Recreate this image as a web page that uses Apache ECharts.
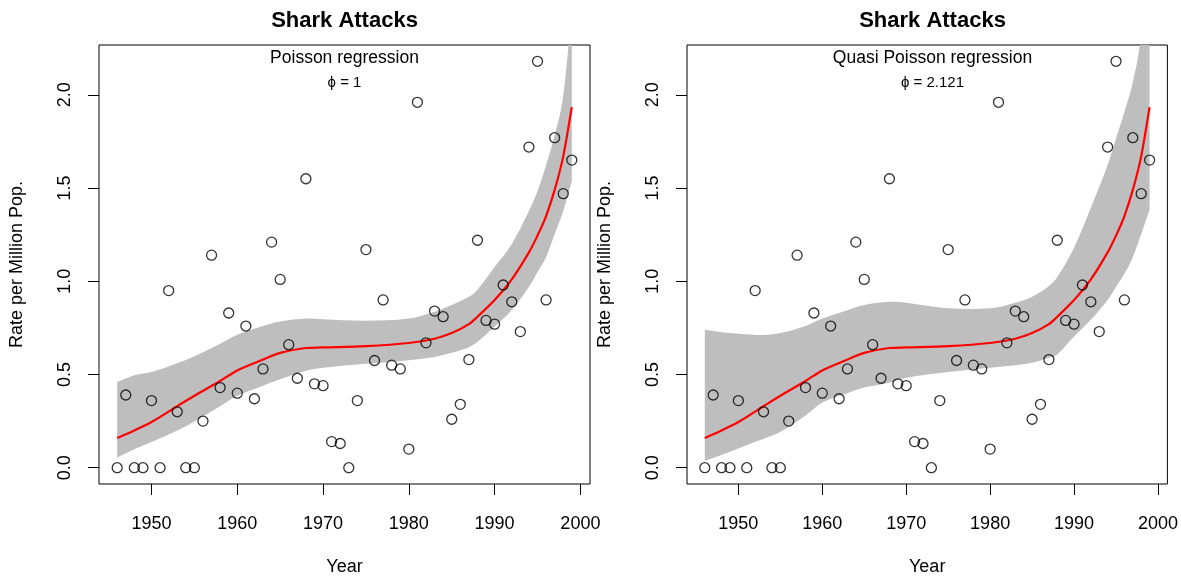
<!DOCTYPE html>
<html>
<head>
<meta charset="utf-8">
<script src="https://cdn.jsdelivr.net/npm/echarts@6/dist/echarts.min.js"></script>
<style>html,body{margin:0;padding:0;background:#fff;}#c{width:1181px;height:581px;}</style>
</head>
<body>
<div id="c"></div>
<script>
// observed data
const years = [1946,1947,1948,1949,1950,1951,1952,1953,1954,1955,1956,1957,1958,1959,1960,1961,1962,1963,1964,1965,1966,1967,1968,1969,1970,1971,1972,1973,1974,1975,1976,1977,1978,1979,1980,1981,1982,1983,1984,1985,1986,1987,1988,1989,1990,1991,1992,1993,1994,1995,1996,1997,1998,1999];
const rate = [0,0.39,0,0,0.36,0,0.95,0.30,0,0,0.25,1.14,0.43,0.83,0.40,0.76,0.37,0.53,1.21,1.01,0.66,0.48,1.55,0.45,0.44,0.14,0.13,0,0.36,1.17,0.575,0.90,0.55,0.53,0.10,1.96,0.67,0.84,0.81,0.26,0.34,0.58,1.22,0.79,0.77,0.98,0.89,0.73,1.72,2.18,0.90,1.77,1.47,1.65];
// fitted curve and confidence bands
const fitYears = [1946,1948,1950,1953,1955,1958,1960,1963,1965,1968,1970,1975,1980,1983,1985,1987,1988,1990,1992,1994,1995,1996,1997,1998,1999];
const fitRate = [0.159,0.20,0.245,0.33,0.386,0.465,0.522,0.58,0.616,0.642,0.645,0.652,0.669,0.692,0.722,0.77,0.81,0.899,1.01,1.155,1.245,1.35,1.49,1.67,1.934];
const poisLo = [0.055,0.099,0.138,0.20,0.248,0.33,0.386,0.44,0.474,0.52,0.536,0.557,0.577,0.594,0.616,0.646,0.675,0.757,0.846,0.97,1.049,1.129,1.253,1.377,1.536];
const poisHi = [0.46,0.496,0.513,0.56,0.598,0.665,0.713,0.76,0.784,0.80,0.796,0.788,0.80,0.837,0.873,0.917,0.955,1.076,1.2,1.377,1.483,1.624,1.783,1.996,2.45];
const quasiLo = [0.037,0.068,0.103,0.155,0.191,0.28,0.35,0.40,0.43,0.456,0.483,0.513,0.536,0.55,0.563,0.59,0.607,0.704,0.793,0.899,0.97,1.04,1.129,1.253,1.385];
const quasiHi = [0.74,0.727,0.719,0.712,0.722,0.76,0.80,0.845,0.873,0.89,0.885,0.855,0.855,0.885,0.917,0.975,1.023,1.18,1.394,1.624,1.766,1.908,2.067,2.33,2.9];
const xTicks = [1950,1960,1970,1980,1990,2000];
const yTicks = [0,0.5,1,1.5,2];
const panels = [
  {title:'Shark Attacks', sub:'Poisson regression', phi:'\u03D5 = 1', lo:poisLo, hi:poisHi},
  {title:'Shark Attacks', sub:'Quasi Poisson regression', phi:'\u03D5 = 2.121', lo:quasiLo, hi:quasiHi}
];

const FONT = '"Liberation Sans", Arial, sans-serif';
const gridLefts = [99, 687];
const gridW = 491, gridTop = 45, gridH = 444;
const xMin = 1943.88, xMax = 2001.12, yMin = -0.0873, yMax = 2.2673;

// cubic Hermite (finite-difference tangents, non-uniform spacing) as bezier path segments through pixel points
function curveSegs(pts) {
  const n = pts.length, m = [];
  for (let i = 0; i < n; i++) {
    const a = pts[Math.max(i - 1, 0)], b = pts[Math.min(i + 1, n - 1)];
    m.push((b[1] - a[1]) / (b[0] - a[0]));
  }
  let d = '';
  for (let i = 0; i < n - 1; i++) {
    const p1 = pts[i], p2 = pts[i + 1], h = (p2[0] - p1[0]) / 3;
    d += ' C' + (p1[0] + h) + ' ' + (p1[1] + m[i] * h) + ' ' + (p2[0] - h) + ' ' + (p2[1] - m[i + 1] * h) + ' ' + p2[0] + ' ' + p2[1];
  }
  return d;
}
function revSegs(pts) {
  // same curve traversed right-to-left
  const n = pts.length, m = [];
  for (let i = 0; i < n; i++) {
    const a = pts[Math.max(i - 1, 0)], b = pts[Math.min(i + 1, n - 1)];
    m.push((b[1] - a[1]) / (b[0] - a[0]));
  }
  let d = '';
  for (let i = n - 1; i > 0; i--) {
    const p1 = pts[i], p2 = pts[i - 1], h = (p1[0] - p2[0]) / 3;
    d += ' C' + (p1[0] - h) + ' ' + (p1[1] - m[i] * h) + ' ' + (p2[0] + h) + ' ' + (p2[1] + m[i - 1] * h) + ' ' + p2[0] + ' ' + p2[1];
  }
  return d;
}

const grids = [], xAxes = [], yAxes = [], series = [], graphics = [];
panels.forEach((p, i) => {
  grids.push({left: gridLefts[i], top: gridTop, width: gridW, height: gridH, show: true,
    borderColor: '#000', borderWidth: 1, backgroundColor: 'transparent', containLabel: false});
  xAxes.push({type: 'value', gridIndex: i, min: xMin, max: xMax,
    name: 'Year', nameLocation: 'middle', nameGap: 74,
    nameTextStyle: {fontFamily: FONT, fontSize: 18, color: '#000'},
    axisLine: {show: false, onZero: false}, splitLine: {show: false},
    axisTick: {show: true, inside: false, length: 11, customValues: xTicks, lineStyle: {color: '#000', width: 1}},
    axisLabel: {show: true, margin: 31, customValues: xTicks, fontFamily: FONT, fontSize: 18, color: '#000', formatter: v => String(Math.round(v))}
  });
  yAxes.push({type: 'value', gridIndex: i, min: yMin, max: yMax,
    name: 'Rate per Million Pop.', nameLocation: 'middle', nameGap: 73,
    nameTextStyle: {fontFamily: FONT, fontSize: 18, color: '#000'},
    axisLine: {show: false, onZero: false}, splitLine: {show: false},
    axisTick: {show: true, inside: false, length: 11, customValues: yTicks, lineStyle: {color: '#000', width: 1}},
    axisLabel: {show: true, margin: 25, rotate: 90, customValues: yTicks, fontFamily: FONT, fontSize: 18, color: '#000', formatter: v => v.toFixed(1)}
  });
  const lo = p.lo, hi = p.hi;
  // confidence band
  series.push({type: 'custom', xAxisIndex: i, yAxisIndex: i, clip: true, silent: true, z: 1,
    data: [[fitYears[0], lo[0]]],
    renderItem: function (params, api) {
      const up = fitYears.map((y, k) => api.coord([y, hi[k]]));
      const dn = fitYears.map((y, k) => api.coord([y, lo[k]]));
      const last = dn[dn.length - 1];
      let d = 'M' + up[0][0] + ' ' + up[0][1] + curveSegs(up);
      d += ' L' + last[0] + ' ' + last[1] + revSegs(dn) + ' Z';
      return {type: 'path', shape: {pathData: d}, style: {fill: '#BEBEBE', stroke: null}};
    }
  });
  // fitted curve
  series.push({type: 'custom', xAxisIndex: i, yAxisIndex: i, clip: true, silent: true, z: 3,
    data: [[fitYears[0], fitRate[0]]],
    renderItem: function (params, api) {
      const pts = fitYears.map((y, k) => api.coord([y, fitRate[k]]));
      const d = 'M' + pts[0][0] + ' ' + pts[0][1] + curveSegs(pts);
      return {type: 'path', shape: {pathData: d}, style: {fill: null, stroke: '#FF0000', lineWidth: 2.2}};
    }
  });
  series.push({type: 'scatter', xAxisIndex: i, yAxisIndex: i, symbol: 'circle', symbolSize: 10,
    itemStyle: {color: 'rgba(0,0,0,0)', borderColor: '#000', borderWidth: 1.3},
    data: years.map((y, k) => [y, rate[k]]), z: 4});
  const cx = gridLefts[i] + gridW / 2;
  graphics.push({type: 'text', style: {text: p.title, x: cx, y: 21, align: 'center', verticalAlign: 'middle',
    textAlign: 'center', textVerticalAlign: 'middle', font: 'bold 22px ' + FONT, fill: '#000'}});
  graphics.push({type: 'text', style: {text: p.sub, x: cx, y: 58, align: 'center', verticalAlign: 'middle',
    textAlign: 'center', textVerticalAlign: 'middle', font: '17.5px ' + FONT, fill: '#000'}});
  graphics.push({type: 'text', style: {text: p.phi, x: cx, y: 83, align: 'center', verticalAlign: 'middle',
    textAlign: 'center', textVerticalAlign: 'middle', font: '15px ' + FONT, fill: '#000'}});
});

const chart = echarts.init(document.getElementById('c'), null, {renderer: 'canvas'});
chart.setOption({animation: false, backgroundColor: '#fff', grid: grids, xAxis: xAxes, yAxis: yAxes, series: series, graphic: graphics});
</script>
</body>
</html>
